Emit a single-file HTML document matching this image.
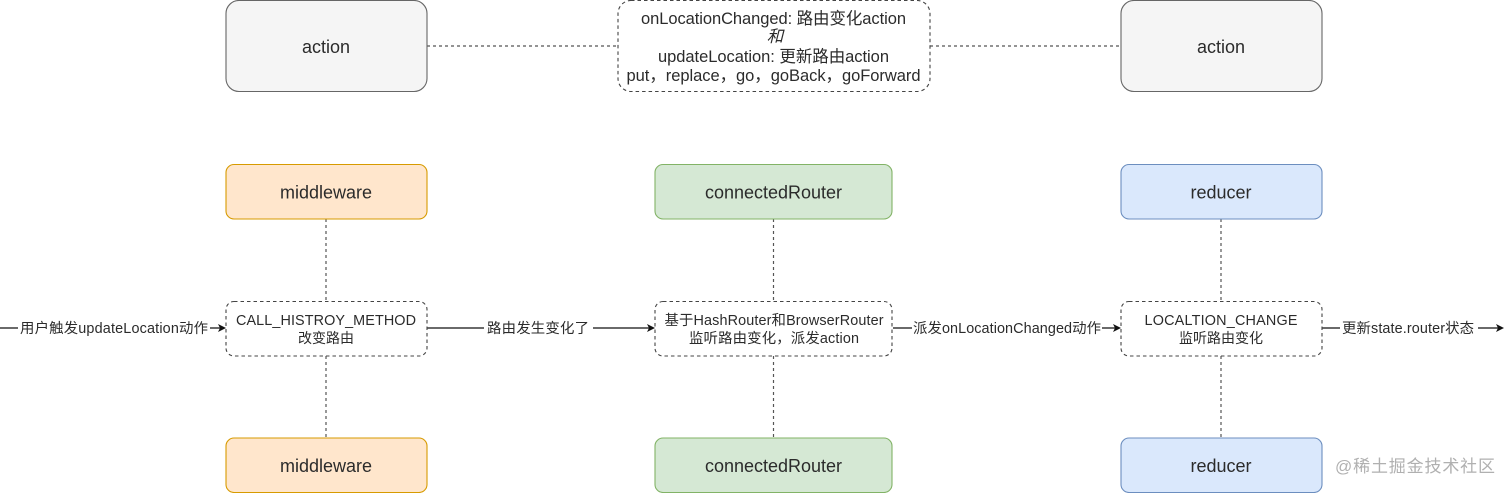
<!DOCTYPE html>
<html><head><meta charset="utf-8"><style>
html,body{margin:0;padding:0;background:#fff;width:1512px;height:493px;overflow:hidden}
svg{display:block;filter:blur(0.35px)}
text{font-family:"Liberation Sans","Noto Sans CJK SC",sans-serif;fill:#2b2b2b;text-anchor:middle}
.b{font-size:18px}.m{font-size:16.500px}.s{font-size:14.400px}.z{font-size:14px}
.p{font-family:"WenQuanYi Zen Hei",sans-serif}
.d{fill:#fff;stroke:#444;stroke-width:1.100;stroke-dasharray:3.500 3}
.c{stroke:#555;stroke-width:1.200;stroke-dasharray:3 3;fill:none}
.l{stroke:#111;stroke-width:1.200;fill:none}
.a{fill:#111}
</style></head><body>
<svg width="1512" height="493" viewBox="0 0 1512 493" xmlns="http://www.w3.org/2000/svg">
<path class="c" d="M427 46H618M930 46H1121M326 219V301M326 356V438M773.500 219V301M773.500 356V438M1221 219V301M1221 356V438"/>
<path class="l" d="M0 328H18M210 328H220M427 328H484M593 328H650M893 328H912M1102 328H1116M1322 328H1340M1478 328H1498"/>
<path class="a" d="M226 328l-8-4 2 4-2 4zM655 328l-8-4 2 4-2 4zM1121 328l-8-4 2 4-2 4zM1504 328l-8-4 2 4-2 4z"/>
<rect x="226" y="0.500" width="201" height="91" rx="13" fill="#f5f5f5" stroke="#666" stroke-width="1.100"/>
<rect x="1121" y="0.500" width="201" height="91" rx="13" fill="#f5f5f5" stroke="#666" stroke-width="1.100"/>
<rect class="d" x="618" y="0.500" width="312" height="91" rx="13"/>
<rect x="226" y="164.500" width="201" height="54.500" rx="8" fill="#ffe6cc" stroke="#d79b00" stroke-width="1.100"/>
<rect x="226" y="438" width="201" height="54.500" rx="8" fill="#ffe6cc" stroke="#d79b00" stroke-width="1.100"/>
<rect x="655" y="164.500" width="237" height="54.500" rx="8" fill="#d5e8d4" stroke="#82b366" stroke-width="1.100"/>
<rect x="655" y="438" width="237" height="54.500" rx="8" fill="#d5e8d4" stroke="#82b366" stroke-width="1.100"/>
<rect x="1121" y="164.500" width="201" height="54.500" rx="8" fill="#dae8fc" stroke="#6c8ebf" stroke-width="1.100"/>
<rect x="1121" y="438" width="201" height="54.500" rx="8" fill="#dae8fc" stroke="#6c8ebf" stroke-width="1.100"/>
<rect class="d" x="226" y="301.500" width="201" height="54.500" rx="8"/>
<rect class="d" x="655" y="301.500" width="237" height="54.500" rx="8"/>
<rect class="d" x="1121" y="301.500" width="201" height="54.500" rx="8"/>
<text class="b" x="326" y="53">action</text>
<text class="b" x="1221" y="53">action</text>
<text class="m" x="773.500" y="24" textLength="265">onLocationChanged: 路由变化action</text>
<text class="m" x="775" y="42" font-style="italic">和</text>
<text class="m" x="773.500" y="62" textLength="231">updateLocation: 更新路由action</text>
<text class="m" x="773.500" y="81" textLength="294">put<tspan class="p">，</tspan>replace<tspan class="p">，</tspan>go<tspan class="p">，</tspan>goBack<tspan class="p">，</tspan>goForward</text>
<text class="b" x="326" y="198.500">middleware</text>
<text class="b" x="773.500" y="198.500">connectedRouter</text>
<text class="b" x="1221" y="198.500">reducer</text>
<text class="b" x="326" y="472">middleware</text>
<text class="b" x="773.500" y="472">connectedRouter</text>
<text class="b" x="1221" y="472">reducer</text>
<text class="s" x="326" y="325" textLength="180">CALL_HISTROY_METHOD</text>
<text class="z" x="326" y="343">改变路由</text>
<text class="s" x="774" y="325" textLength="219">基于HashRouter和BrowserRouter</text>
<text class="s" x="774" y="343" textLength="170">监听路由变化<tspan class="p">，</tspan>派发action</text>
<text class="s" x="1221" y="325" textLength="153">LOCALTION_CHANGE</text>
<text class="z" x="1221" y="343">监听路由变化</text>
<text class="s" x="114" y="333" textLength="188">用户触发updateLocation动作</text>
<text class="s" x="538" y="333" textLength="102">路由发生变化了</text>
<text class="s" x="1007" y="333" textLength="188">派发onLocationChanged动作</text>
<text class="s" x="1408" y="333" textLength="132">更新state.router状态</text>
<text x="1415" y="472" style="font-size:17px;fill:#b0b0b0" textLength="160">@稀土掘金技术社区</text>
</svg>
</body></html>
